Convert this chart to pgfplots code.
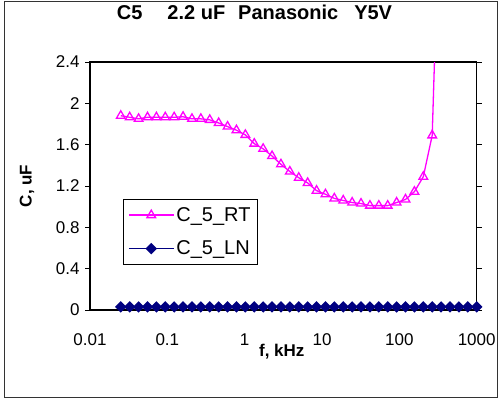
\documentclass[border=0pt]{standalone}
\usepackage{pgfplots}
\pgfplotsset{compat=1.18}
\usepackage{fontspec}
\setmainfont{Liberation Sans}
\definecolor{rtmag}{RGB}{255,0,255}
\definecolor{lnnavy}{RGB}{0,0,128}
\begin{document}
\begin{tikzpicture}
\useasboundingbox (0pt,0pt) rectangle (500pt,400pt);
\draw[line width=1pt,black!80] (4pt,3pt) rectangle (497pt,398pt);
\begin{axis}[
  at={(90pt,90pt)}, anchor=south west,
  scale only axis, width=386.7pt, height=248pt,
  xmode=log, xmin=0.01, xmax=1000,
  ymin=0, ymax=2.4,
  xtick={0.01,0.1,1,10,100,1000},
  xticklabels={0.01,0.1,1,10,100,1000},
  ytick={0,0.4,0.8,1.2,1.6,2,2.4},
  yticklabels={0,0.4,0.8,1.2,1.6,2,2.4},
  minor xtick={},
  xtick style={draw=none},
  ytick style={line width=0.8pt,black},
  tick align=outside, major tick length=5pt,
  axis line style={line width=1.2pt,black},
  ticklabel style={font=\fontsize{17}{20}\selectfont},
  /pgf/number format/assume math mode=true,
  xticklabel style={yshift=-15pt},
  yticklabel style={xshift=-2pt},
  title={\fontsize{20}{24}\selectfont\bfseries C5\hspace{25pt}2.2 uF\hspace{13pt}Panasonic\hspace{16pt}Y5V},
  title style={at={(rel axis cs:0.4254,1.177)}, anchor=center, yshift=0pt},
  xlabel={\fontsize{17}{20}\selectfont\bfseries f, kHz},
  xlabel style={at={(rel axis cs:0.496,-0.169)}, anchor=center},
  ylabel={\fontsize{17}{20}\selectfont\bfseries C, uF},
  ylabel style={at={(rel axis cs:-0.163,0.5)}, anchor=center},
  legend style={at={(rel axis cs:0.0846,0.4476)}, anchor=north west,
    draw=black, line width=0.8pt, font=\fontsize{20}{24}\selectfont,
    row sep=14pt, inner xsep=5pt, inner ysep=6pt},
  legend cell align=left,
  legend image code/.code={
    \draw[#1,line width=1.3pt] (0pt,0pt) -- (45pt,0pt);
    \draw[#1,line width=1.3pt] plot[only marks] coordinates {(22.5pt,0pt)};
  },
]
\addplot[rtmag, line width=1.3pt, mark=triangle, mark size=5pt,
  mark options={solid, line width=1.3pt, fill=white},
  mark indices={1,...,36}] coordinates {
(0.0250,1.88) (0.0326,1.865) (0.0425,1.85) (0.0554,1.865) (0.0722,1.865)
(0.0940,1.865) (0.1225,1.865) (0.1597,1.87) (0.2082,1.85) (0.2713,1.85)
(0.3536,1.84) (0.4609,1.81) (0.6008,1.775) (0.7827,1.74) (1.020,1.695)
(1.330,1.61) (1.733,1.56) (2.259,1.49) (2.944,1.41) (3.837,1.34)
(5.001,1.28) (6.518,1.23) (8.494,1.155) (11.07,1.12) (14.43,1.08)
(18.80,1.06) (24.51,1.04) (31.94,1.03) (41.63,1.01) (54.25,1.01)
(70.70,1.01) (92.15,1.04) (120.1,1.07) (156.5,1.145) (204.0,1.29)
(265.9,1.69) (346.5,4.5)
};
\addlegendentry{C\_5\_RT}
\addplot[lnnavy, line width=1.3pt, mark=square*, mark size=3.4pt,
  mark options={solid, rotate=45, fill=lnnavy}] coordinates {
(0.0250,0.03) (0.0326,0.03) (0.0425,0.03) (0.0554,0.03) (0.0722,0.03)
(0.0940,0.03) (0.1225,0.03) (0.1597,0.03) (0.2082,0.03) (0.2713,0.03)
(0.3536,0.03) (0.4609,0.03) (0.6008,0.03) (0.7827,0.03) (1.020,0.03)
(1.330,0.03) (1.733,0.03) (2.259,0.03) (2.944,0.03) (3.837,0.03)
(5.001,0.03) (6.518,0.03) (8.494,0.03) (11.07,0.03) (14.43,0.03)
(18.80,0.03) (24.51,0.03) (31.94,0.03) (41.63,0.03) (54.25,0.03)
(70.70,0.03) (92.15,0.03) (120.1,0.03) (156.5,0.03) (204.0,0.03)
(265.9,0.03) (346.5,0.03) (451.6,0.03) (588.6,0.03) (767.1,0.03)
(1000,0.03)
};
\addlegendentry{C\_5\_LN}
\end{axis}
\end{tikzpicture}
\end{document}
